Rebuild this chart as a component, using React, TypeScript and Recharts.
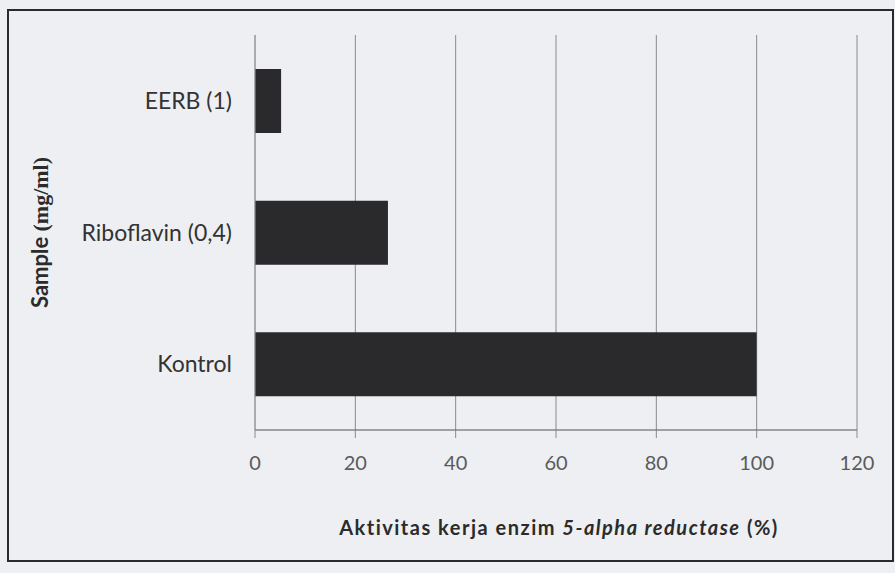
import React from "react";
import { BarChart, Bar, XAxis, YAxis, CartesianGrid, Label } from "recharts";

const categories = ["EERB (1)", "Riboflavin (0,4)", "Kontrol"];
const activityValues = [5.2, 26.5, 100];
const xTicks = [0, 20, 40, 60, 80, 100, 120];
const xTitleParts = ["Aktivitas kerja enzim ", "5-alpha reductase", " (%)"];
const yTitleParts = ["Sample ", "(mg/ml)"];

const data = categories.map((c, i) => ({ name: c, value: activityValues[i] }));

const FONT = "Lato, 'Open Sans', sans-serif";

const XTick = (props: any) => {
  const { x, y, payload } = props;
  return (
    <text x={x} y={y} dy="0.71em" textAnchor="middle" fill="#5a5a5a" fontSize={20} fontFamily={FONT}>
      {payload.value}
    </text>
  );
};

const YTick = (props: any) => {
  const { x, y, payload } = props;
  return (
    <text x={x} y={y} dy="0.35em" textAnchor="end" fill="#333" fontSize={23} fontFamily={FONT}>
      {payload.value}
    </text>
  );
};

const XTitle = (props: any) => {
  const vb = props.viewBox;
  const cx = vb.x + vb.width / 2 + 3;
  const cy = vb.y + 105;
  return (
    <text x={cx} y={cy} textAnchor="middle" fill="#2b2b2b" fontSize={20} fontWeight={700} fontFamily={FONT} letterSpacing={1.5}>
      <tspan>{xTitleParts[0]}</tspan>
      <tspan fontStyle="italic">{xTitleParts[1]}</tspan>
      <tspan>{xTitleParts[2]}</tspan>
    </text>
  );
};

const YTitle = (props: any) => {
  const vb = props.viewBox;
  const cx = 40;
  const cy = vb.y + vb.height / 2;
  return (
    <text x={cx} y={cy} dy="0.35em" textAnchor="middle" fill="#2b2b2b" fontSize={22} fontWeight={700} fontFamily={FONT} transform={`rotate(-90 ${cx} ${cy})`}>
      <tspan>{yTitleParts[0]}</tspan>
      <tspan fontFamily="'Liberation Serif', serif">{yTitleParts[1]}</tspan>
    </text>
  );
};

export default function App() {
  return (
    <div style={{ position: "absolute", left: 0, top: 0, width: 895, height: 573, background: "#eeeff2", overflow: "hidden" }}>
      <div style={{ position: "absolute", left: 7, top: 9, width: 895 - 7 - 1, height: 562 - 9, border: "2px solid #2a2a2a", boxSizing: "border-box" }} />
      <div style={{ position: "absolute", left: 0, top: 0 }}>
        <BarChart
          width={895}
          height={573}
          data={data}
          layout="vertical"
          margin={{ top: 35, right: 38, bottom: 0, left: 0 }}
        >
          <CartesianGrid horizontal={false} vertical={true} stroke="#8a8a8a" strokeWidth={1} />
          <XAxis
            xAxisId="top"
            type="number"
            orientation="top"
            domain={[0, 120]}
            ticks={xTicks}
            height={0}
            tick={false}
            tickLine={false}
            axisLine={{ stroke: "#2a2a2a", strokeWidth: 1.5 }}
          />
          <XAxis
            type="number"
            domain={[0, 120]}
            ticks={xTicks}
            height={143}
            tickSize={8}
            tickMargin={18}
            tickLine={{ stroke: "#8a8a8a" }}
            axisLine={{ stroke: "#555", strokeWidth: 1.2 }}
            tick={<XTick />}
          >
            <Label content={<XTitle />} />
          </XAxis>
          <YAxis
            type="category"
            dataKey="name"
            width={255}
            tickSize={0}
            tickMargin={23}
            tickLine={false}
            axisLine={{ stroke: "#9a9a9a" }}
            tick={<YTick />}
          >
            <Label content={<YTitle />} />
          </YAxis>
          <Bar dataKey="value" fill="#2a2a2c" barSize={64} isAnimationActive={false} />
        </BarChart>
      </div>
    </div>
  );
}
